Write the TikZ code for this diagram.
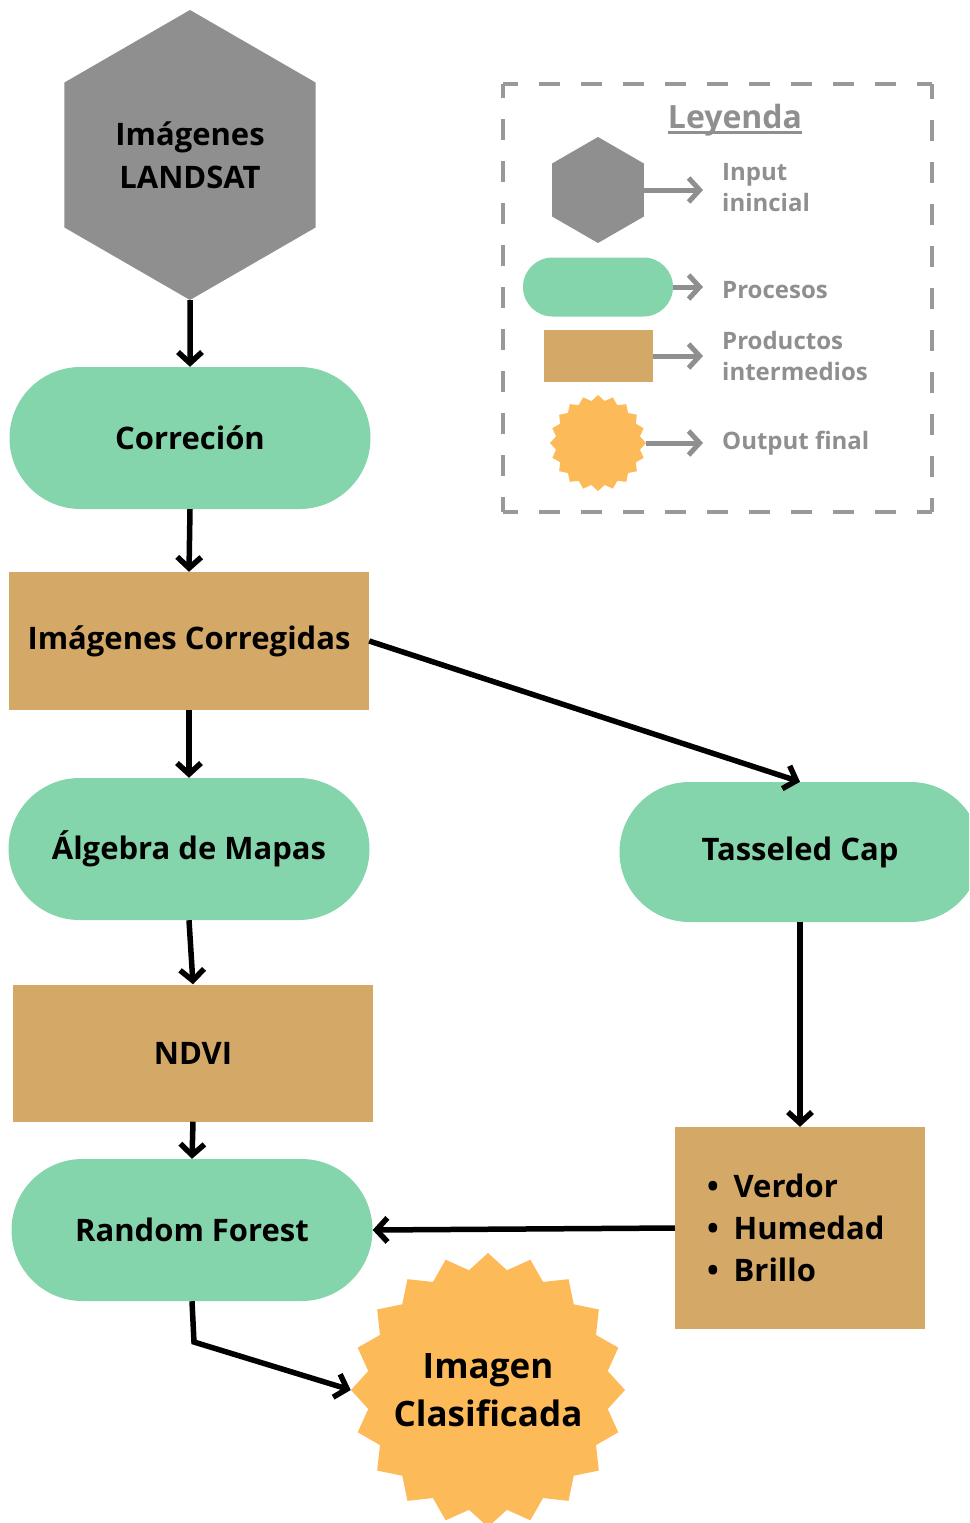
\documentclass[tikz,border=0pt]{standalone}
\usepackage{fontspec}
\setmainfont{Open Sans}
\usetikzlibrary{shapes.geometric,shapes.misc,arrows.meta}
\definecolor{proc}{HTML}{84D4AC}
\definecolor{prod}{HTML}{D4A866}
\definecolor{hexg}{HTML}{8F8F8F}
\definecolor{outc}{HTML}{FDBA58}
\definecolor{legg}{HTML}{8F8F8F}
\definecolor{dashg}{HTML}{999999}
\begin{document}
\begin{tikzpicture}[x=1pt,y=-1pt,
 bigtxt/.style={font=\fontsize{31}{43}\selectfont\bfseries},
 procbox/.style={rounded rectangle, fill=proc, minimum width=361pt, minimum height=142pt, inner sep=0pt},
 prodbox/.style={rectangle, fill=prod, minimum width=360pt, minimum height=138pt, inner sep=0pt},
 inhex/.style={regular polygon, regular polygon sides=6, shape border rotate=30, fill=hexg, inner sep=0pt},
 outstar/.style={star, star points=20, star point ratio=1.13, fill=outc, inner sep=0pt},
 flow/.style={line width=5.5pt, -{Straight Barb[length=11pt,width=24pt]}},
 legflow/.style={flow, line width=5pt, draw=legg},
 legtxt/.style={text=legg, font=\fontsize{24}{31}\selectfont\bfseries, anchor=west, align=left, inner sep=0pt},
 legborder/.style={draw=dashg, line width=3.5pt, dash pattern=on 21pt off 21pt, dash phase=6pt}
]
\clip (0,0) rectangle (969,1523);

% main flow
\node[inhex, minimum size=290pt, bigtxt, align=center] (landsat) at (190,155) {Imágenes\\LANDSAT};
\node[procbox, bigtxt] (corr) at (190,438) {Correción};
\node[prodbox, bigtxt] (icorr) at (189,641) {Imágenes Corregidas};
\node[procbox, bigtxt] (alg) at (189,849) {Álgebra de Mapas};
\node[prodbox, minimum height=137pt, bigtxt] (ndvi) at (193,1053) {NDVI};
\node[procbox, bigtxt] (rf) at (192,1230) {Random Forest};
\node[outstar, minimum size=274pt,
      label={[font=\fontsize{35}{48}\selectfont\bfseries, align=center]center:Imagen\\Clasificada}] (ic) at (488,1390) {};
\node[procbox, minimum height=140pt, bigtxt] (tc) at (800,852) {Tasseled Cap};
\node[prodbox, minimum width=250pt, minimum height=202pt, text width=186pt, align=left, font=\fontsize{31}{42}\selectfont\bfseries] (bands) at (800,1228)
  {\textbullet\hspace{15pt}Verdor\\\textbullet\hspace{15pt}Humedad\\\textbullet\hspace{15pt}Brillo};
\coordinate (rfbend) at (194,1342);

\draw[flow] (landsat.south) -- (corr.north);
\draw[flow] (corr.south) -- (icorr.north);
\draw[flow] (icorr.south) -- (alg.north);
\draw[flow] (alg.south) -- (ndvi.north);
\draw[flow] (ndvi.south) -- (rf.north);
\draw[flow] (icorr.east) -- (tc.north);
\draw[flow] (tc.south) -- (bands.north);
\draw[flow] (bands.west) -- (rf.east);
\draw[flow] (rf.south) -- (rfbend) -- (ic.west);

% legend
\draw[legborder] (503,84) -- (932,84);
\draw[legborder] (932,84) -- (932,512);
\draw[legborder] (932,512) -- (503,512);
\draw[legborder] (503,512) -- (503,84);
\node[text=legg, font=\fontsize{32}{34}\selectfont\bfseries, inner sep=0pt] (leyenda) at (735,120) {Leyenda};
\draw[draw=legg, line width=2.5pt] ([yshift=-4pt]leyenda.base west) -- ([yshift=-4pt]leyenda.base east);

\node[inhex, minimum size=106pt] (lhex) at (598,190) {};
\node[procbox, minimum width=150pt, minimum height=59pt] (lproc) at (598,287) {};
\node[prodbox, minimum width=109pt, minimum height=52pt] (lprod) at (598.5,356) {};
\node[outstar, minimum size=96pt] (lout) at (598,443) {};

\node[legtxt] (tin) at (722,188) {Input\\inincial};
\node[legtxt] (tproc) at (722,290) {Procesos};
\node[legtxt] (tprod) at (722,356) {Productos\\intermedios};
\node[legtxt] (tout) at (722,443) {Output final};

\draw[legflow, shorten >=19pt] (lhex.east) -- (lhex.east -| tin.west);
\draw[legflow, shorten >=19pt] (lproc.east) -- (lproc.east -| tproc.west);
\draw[legflow, shorten >=19pt] (lprod.east) -- (lprod.east -| tprod.west);
\draw[legflow, shorten >=19pt] (lout.east) -- (lout.east -| tout.west);
\end{tikzpicture}
\end{document}
